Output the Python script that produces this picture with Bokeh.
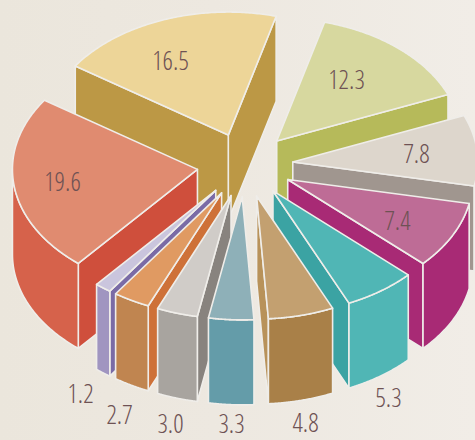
import numpy as np
from bokeh.plotting import figure
from bokeh.models import Range1d
from bokeh.core.properties import value
from bokeh.embed import file_html
from bokeh.resources import INLINE

labels = ["16.5", "19.6", "1.2", "2.7", "3.0", "3.3", "4.8", "5.3", "7.4", "7.8", "12.3"]
values = [16.5, 19.6, 1.2, 2.7, 3.0, 3.3, 4.8, 5.3, 7.4, 7.8, 12.3]

top_colors = ["#EDD598", "#E08B70", "#CAC5DD", "#E09A62", "#D0CCC8", "#8EB0B8",
              "#C3A070", "#50B6B5", "#BE6C96", "#DDD6CC", "#D7D89F"]
cut_colors = ["#BC9845", "#CF4F3C", "#7A6BA6", "#CE7138", "#88837E", "#649CA9",
              "#B8925A", "#3BA3A3", "#A82A75", "#A0968F", "#B6BA5A"]
rim_colors = ["#BC9845", "#D6624B", "#A095C0", "#C08550", "#A8A49F", "#649CA9",
              "#A98048", "#50B6B5", "#A82A75", "#A0968F", "#B6BA5A"]
EDGE = "#EFEDE9"
TEXT = "#6E5254"
FONT = "Open Sans Condensed Light"

CX, CY = 244.5, 164.5
RADIUS, TILT, DEPTH, EXPLODE = 185.0, 0.665, 85.0, 48.0
START_DEG = 75.0
label_x = [170, 62, 80, 119, 170, 231, 305, 388, 397, 416, 346]
label_y = [60, 181, 393, 414, 423, 423, 422, 397, 220, 153, 79]
FONT_SIZE = "26px"

W, H = 475, 440
p = figure(width=W, height=H, output_backend="svg", toolbar_location=None,
           x_range=Range1d(0, W), y_range=Range1d(H, 0),
           min_border=0, background_fill_color=None, border_fill_color=None,
           outline_line_color=None)
p.axis.visible = False
p.grid.visible = False

vals = np.array(values, dtype=float)
spans = vals / vals.sum() * 2 * np.pi
starts = np.radians(START_DEG) + np.concatenate([[0], np.cumsum(spans)[:-1]])


def project(ax, ay, r, t):
    return ax + r * np.cos(t), ay - r * TILT * np.sin(t)


def face(xs, ys, color):
    p.patch(list(xs), list(ys), fill_color=color, line_color=EDGE, line_width=1.6,
            line_join="round")


mids = starts + spans / 2
order = np.argsort(-np.sin(mids))

for i in order:
    a, b, m = starts[i], starts[i] + spans[i], mids[i]
    ax, ay = project(CX, CY, EXPLODE, m)
    for edge_angle, visible in ((a, np.cos(a) > 0), (b, np.cos(b) < 0)):
        if visible:
            ex, ey = project(ax, ay, RADIUS, edge_angle)
            face([ax, ex, ex, ax], [ay, ey, ey + DEPTH, ay + DEPTH], cut_colors[i])
    lo, hi = None, None
    for k in (-1, 0, 1):
        l0 = np.pi + 2 * np.pi * k
        l1 = l0 + np.pi
        if max(a, l0) < min(b, l1):
            lo, hi = max(a, l0), min(b, l1)
    if lo is not None:
        t = np.linspace(lo, hi, 60)
        rx, ry = project(ax, ay, RADIUS, t)
        face(np.r_[rx, rx[::-1]], np.r_[ry, ry[::-1] + DEPTH], rim_colors[i])
    t = np.linspace(a, b, 120)
    tx, ty = project(ax, ay, RADIUS, t)
    face(np.r_[ax, tx], np.r_[ay, ty], top_colors[i])

p.text(x=label_x, y=label_y, text=labels, text_color=TEXT, text_font=value(FONT),
       text_font_size=value(FONT_SIZE), text_align="center", text_baseline="middle")

html = file_html(p, INLINE)
css = ("<style>html,body{overflow:hidden;height:100%;"
       "background:linear-gradient(90deg,#EBE6DC 0%,#EDE8E0 45%,#F1EDE7 100%);}</style>")
html = html.replace("</head>", css + "</head>", 1)
open("out.html", "w").write(html)
